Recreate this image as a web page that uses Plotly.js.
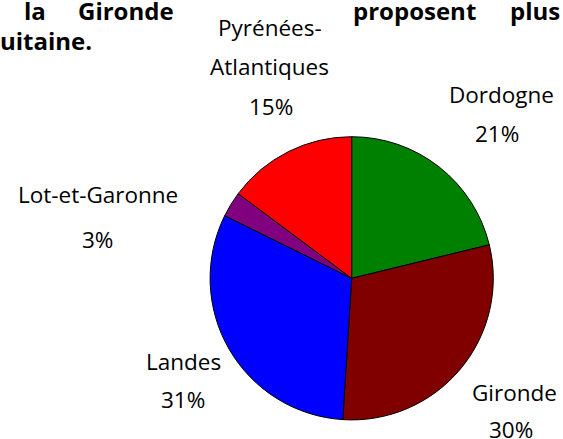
<!DOCTYPE html>
<html>
<head>
<meta charset="utf-8">
<script src="https://cdn.plot.ly/plotly-3.0.1.min.js"></script>
<style>html,body{margin:0;padding:0;background:#fff;}#chart{width:563px;height:439px;}</style>
</head>
<body>
<div id="chart"></div>
<script>
// Data
const departements = ["Dordogne", "Gironde", "Landes", "Lot-et-Garonne", "Pyrénées-Atlantiques"];
const parts = [21.2, 29.8, 31.3, 2.9, 14.8];
const couleurs = ["#008000", "#800000", "#0000ff", "#800080", "#ff0000"];
const labelLines = [["Dordogne"], ["Gironde"], ["Landes"], ["Lot-et-Garonne"], ["Pyrénées-", "Atlantiques"]];
const titleWords = ["la", "Gironde", "proposent", "plus", "uitaine."];

// Layout (pixel positions of label lines and percent text)
const W = 563, H = 439;
const labelPos = [
  {lines: [[501, 94]], pct: [497, 134]},
  {lines: [[514, 392]], pct: [511, 429]},
  {lines: [[183, 361]], pct: [183, 399.5]},
  {lines: [[97.5, 194.5]], pct: [97, 239]},
  {lines: [[270, 27]], pct: [271, 107]}
];
labelPos[4].lines.push([269, 67]);
const FONT = "'Open Sans', sans-serif";
const total = parts.reduce((a, b) => a + b, 0);
const annotations = [];
departements.forEach((d, i) => {
  labelLines[i].forEach((t, j) => {
    const p = labelPos[i].lines[j];
    annotations.push({text: t, x: p[0] / W, y: 1 - p[1] / H, xref: "paper", yref: "paper",
      xanchor: "center", yanchor: "middle", showarrow: false, font: {family: FONT, size: 22.5, color: "#000"}});
  });
  const q = labelPos[i].pct;
  annotations.push({text: Math.round(parts[i] / total * 100) + "%", x: q[0] / W, y: 1 - q[1] / H,
    xref: "paper", yref: "paper", xanchor: "center", yanchor: "middle", showarrow: false,
    font: {family: FONT, size: 22.5, color: "#000"}});
});
const titlePos = [[23, 11, "left"], [77, 11, "left"], [352, 11, "left"], [561, 11, "right"], [-1, 40, "left"]];
titleWords.forEach((t, i) => {
  const p = titlePos[i];
  annotations.push({text: "<b>" + t + "</b>", x: p[0] / W, y: 1 - p[1] / H, xref: "paper", yref: "paper",
    xanchor: p[2], yanchor: "middle", showarrow: false, borderpad: 0,
    font: {family: FONT, size: 24, color: "#000"}});
});

const cx = 351.7, cy = 278.3, r = 141.6;
const trace = {
  type: "pie",
  labels: departements,
  values: parts,
  sort: false,
  direction: "clockwise",
  rotation: 0,
  marker: {colors: couleurs, line: {color: "#000", width: 1}},
  textinfo: "none",
  hoverinfo: "label+percent",
  showlegend: false,
  domain: {x: [(cx - r) / W, (cx + r) / W], y: [(H - cy - r) / H, (H - cy + r) / H]}
};
const layout = {
  width: W, height: H,
  margin: {l: 0, r: 0, t: 0, b: 0},
  paper_bgcolor: "#fff",
  showlegend: false,
  annotations: annotations
};
Plotly.newPlot("chart", [trace], layout, {displayModeBar: false, staticPlot: true});
</script>
</body>
</html>
